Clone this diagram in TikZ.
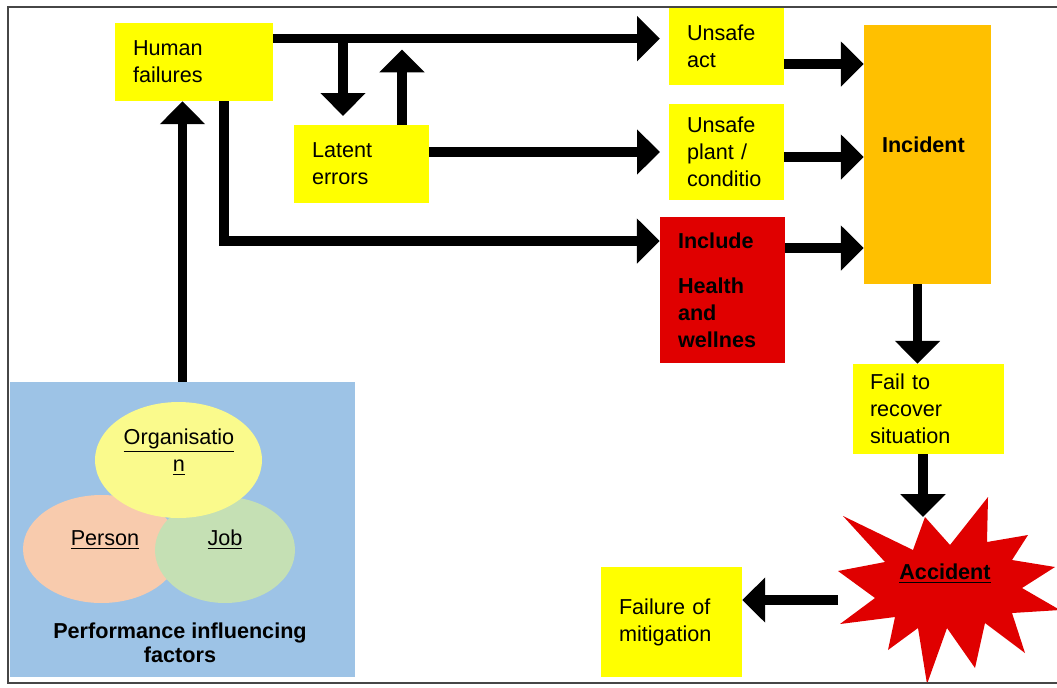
\documentclass[tikz,border=0pt]{standalone}
\usepackage{fontspec}
\setmainfont{Liberation Sans}
\usetikzlibrary{shapes.geometric,arrows.meta,positioning,calc}
\definecolor{hsyellow}{RGB}{255,255,0}
\definecolor{hsorange}{RGB}{255,192,0}
\definecolor{hsred}{RGB}{224,0,0}
\definecolor{hsblue}{RGB}{157,195,230}
\definecolor{hsorg}{RGB}{250,250,140}
\definecolor{hsperson}{RGB}{248,203,173}
\definecolor{hsjob}{RGB}{197,224,180}
\definecolor{hsframe}{RGB}{70,70,70}

\begin{document}
\begin{tikzpicture}[x=0.02cm,y=-0.02cm,
    box/.style={fill=hsyellow,inner xsep=0.36cm,inner ysep=0pt,align=left,
                font=\fontsize{12.3}{15.3}\selectfont},
    blob/.style={ellipse,inner sep=0pt},
    lbl/.style={align=center,font=\fontsize{12.3}{15.3}\selectfont},
    arr/.style={-{Triangle[length=13pt,width=25pt]},line width=5.5pt}
  ]
    \useasboundingbox (0,0) rectangle (1057,687);
    % boxes
    \node[box,text width=2.44cm,minimum height=1.56cm] (hf) at (194,62) {Human\\failures};
    \node[box,text width=1.98cm,minimum height=1.56cm] (lat) at (361.5,164) {Latent\\errors};
    \node[box,text width=1.58cm,minimum height=1.56cm] (ua) at (726.5,46) {Unsafe\\act};
    \node[box,text width=1.58cm,minimum height=1.92cm] (upl) at (726.5,152) {Unsafe\\plant /\\conditio};
    \node[box,fill=hsred,font=\fontsize{12.3}{15.3}\selectfont\bfseries,
          text width=1.78cm,minimum height=2.92cm] (hw) at (722.5,290) {Include\\[0.36cm]Health\\and\\wellnes};
    \node[box,fill=hsorange,font=\fontsize{12.3}{15.3}\selectfont\bfseries,
          text width=1.82cm,minimum height=5.18cm] (inc) at (927.5,154.5) {\raisebox{0.4cm}{Incident}};
    \node[box,inner xsep=0.34cm,text width=2.34cm,minimum height=1.8cm] (fail) at (928.5,409) {Fail to\\recover\\situation};
    \node[box,text width=2.1cm,minimum height=2.2cm] (fm) at (671.5,622) {Failure of\\mitigation};
    % performance influencing factors
    \node[fill=hsblue,minimum width=6.9cm,minimum height=5.9cm,inner sep=0pt] (pif) at (182.5,529.5) {};
    \node[blob,fill=hsperson,minimum width=3.14cm,minimum height=2.16cm] (per) at (101.5,549) {};
    \node[blob,fill=hsjob,minimum width=2.8cm,minimum height=2.12cm] (job) at (225,550) {};
    \node[blob,fill=hsorg,minimum width=3.34cm,minimum height=2.32cm] (org) at (178.5,460) {};
    \node[lbl] (orgl) at (179,452) {\underline{Organisatio}\\\underline{n}};
    \node[lbl] (perl) at (105,540) {\underline{Person}};
    \node[lbl] (jobl) at (225,540) {\underline{Job}};
    \node[lbl,font=\fontsize{12.3}{13.6}\selectfont\bfseries] (pifl) at (180,643) {Performance influencing\\factors};
    % accident
    \fill[hsred] (843,516) -- (913,550) -- (925,517) -- (950,545) -- (988,497) -- (987,542)
      -- (1028,535) -- (1012,560) -- (1055,567) -- (1022,588) -- (1060,610) -- (1012,613)
      -- (1025,653) -- (985,623) -- (975,668) -- (947,628) -- (927,684) -- (918,628)
      -- (888,650) -- (895,617) -- (840,624) -- (875,598) -- (838,571) -- (885,562) -- cycle;
    \node[lbl,font=\fontsize{12.3}{15.3}\selectfont\bfseries] (acc) at (945,574) {\underline{Accident}};
    \coordinate (acctop) at (923,517);
    \coordinate (accl) at (838,600);
    % arrows
    \draw[arr,shorten >=5pt] ($(hf.north east)+(0,16)$) coordinate (hft) -- (hft -| ua.west);
    \coordinate (dn) at (343,39);
    \coordinate (upt) at (402,39);
    \draw[arr,shorten >=5pt] (dn) -- (dn |- lat.north);
    \draw[arr,shorten >=6pt] (lat.north -| upt) -- (upt);
    \draw[arr,shorten >=5pt] (lat.east |- upl.west) -- (upl.west);
    \coordinate (bend) at (224,241);
    \draw[arr] (hf.south -| bend) -- (bend) -- (bend -| hw.west);
    \draw[arr,line width=4.8pt] (pif.north) -- (pif.north |- hf.south);
    \draw[arr] ($(ua.east)+(0,18)$) coordinate (uae) -- (uae -| inc.west);
    \draw[arr] ($(upl.east)+(0,5)$) coordinate (ple) -- (ple -| inc.west);
    \draw[arr] ($(hw.east)+(0,-42)$) coordinate (hwe) -- (hwe -| inc.west);
    \draw[arr] ($(inc.south)+(-10,0)$) coordinate (ins) -- (ins |- fail.north);
    \draw[arr] (fail.south -| acctop) -- (acctop);
    \draw[arr] (accl) -- (accl -| fm.east);
    % frame
    \draw[hsframe,line width=1.3pt] (1057,7) -- (8,7) -- (8,683) -- (1057,683);
\end{tikzpicture}
\end{document}
